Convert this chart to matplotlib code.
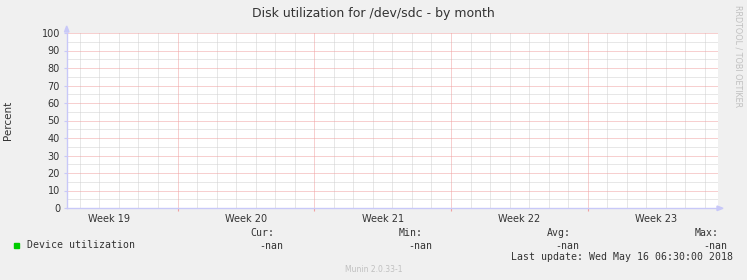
import numpy as np
import matplotlib
matplotlib.use("Agg")
import matplotlib.pyplot as plt
from matplotlib.patches import Polygon

# ---- data ----
title = "Disk utilization for /dev/sdc - by month"
ylabel = "Percent"
week_labels = ["Week 19", "Week 20", "Week 21", "Week 22", "Week 23"]
week_starts = [5.66, 12.66, 19.66, 26.66]      # day offsets of week boundaries
week_centers = [2.16, 9.16, 16.16, 23.16, 30.16]
days = np.arange(0, 34)                       # sample times (days)
utilization = [np.nan] * len(days)             # all values are -nan
series_name = "Device utilization"
stat_names = ["Cur:", "Min:", "Avg:", "Max:"]
stat_values = ["-nan", "-nan", "-nan", "-nan"]
last_update = "Last update: Wed May 16 06:30:00 2018"
x_span = (0, 33.33)
y_span = (0, 100)

W, H = 747, 280
fig = plt.figure(figsize=(W / 100, H / 100), dpi=100)
fig.patch.set_facecolor("#f0f0f0")

L, R, T, B = 67, 718, 33, 208
ax = fig.add_axes([L / W, 1 - B / H, (R - L) / W, (B - T) / H])
ax.set_facecolor("white")
ax.set_xlim(*x_span)
ax.set_ylim(*y_span)

ax.plot(days, utilization, color="#00cc00", lw=1)

LW = 0.72
DOT = (0, (1, 1))
GREY = "#d0d0d0"
RED = "#f0a0a0"
kw = dict(lw=LW, ls=DOT, snap=True, antialiased=True)
minor_x = [x for x in np.arange(0.66, 33.4, 1.0) if all(abs(x - w) > 0.01 for w in week_starts)]
for x in minor_x:
    ax.axvline(x, color=GREY, zorder=0, **kw)
for y in range(5, 100, 10):
    ax.axhline(y, color=GREY, zorder=0, **kw)
for y in range(10, 101, 10):
    ax.axhline(y, color=RED, zorder=1, **kw)
for x in week_starts:
    ax.axvline(x, color=RED, zorder=1, **kw)

for s in ["top", "right"]:
    ax.spines[s].set_visible(False)
for s in ["left", "bottom"]:
    ax.spines[s].set_color("#c8c8f8")
    ax.spines[s].set_linewidth(1.0)

ax.set_yticks(range(0, 101, 10))
ax.set_yticklabels([str(v) for v in range(0, 101, 10)], fontsize=7, color="#333333")
ax.tick_params(axis="y", length=2, width=0.8, color="#c8c8f8", pad=3)
ax.set_xticks(week_starts)
ax.set_xticklabels([""] * len(week_starts))
ax.tick_params(axis="x", length=2, width=0.8, color=RED)

sec = ax.secondary_xaxis("bottom")
sec.set_xticks(week_centers)
sec.set_xticklabels(week_labels, fontsize=7, color="#333333")
sec.tick_params(length=0, pad=4)
sec.spines["bottom"].set_visible(False)

ax.set_ylabel(ylabel, fontsize=7.5, color="#333333", labelpad=0)
ax.yaxis.set_label_coords(-54 / (R - L), 0.5)

def px(x, y):
    return (x / W, 1 - y / H)
fig.patches.append(Polygon([px(64.5, 32), px(69, 32), px(66.7, 26)], closed=True,
                           transform=fig.transFigure, color="#c8c8f8", zorder=5))
fig.patches.append(Polygon([px(717, 206), px(717, 210.6), px(723, 208.3)], closed=True,
                           transform=fig.transFigure, color="#c8c8f8", zorder=5))

fig.text(373.5 / W, 1 - 14 / H, title, ha="center", va="center", fontsize=9, color="#333333")
fig.text(738 / W, 1 - 56.5 / H, "RRDTOOL / TOBI OETIKER", rotation=270, ha="center", va="center",
         fontsize=5.8, color="#c0c0c0")

mono = "DejaVu Sans Mono"
MS = 7.15
fig.patches.append(plt.Rectangle(px(14, 248), 5 / W, 5 / H, transform=fig.transFigure,
                                 color="#00cc00"))
fig.text(27 / W, 1 - 245.5 / H, series_name, fontsize=MS, family=mono, color="#333333", va="center")
name_right = [274, 423, 571, 719]
val_right = [283, 432, 579, 727]
for nm, v, xr1, xr2 in zip(stat_names, stat_values, name_right, val_right):
    fig.text(xr1 / W, 1 - 233 / H, nm, fontsize=MS, family=mono, color="#333333", ha="right", va="center")
    fig.text(xr2 / W, 1 - 246 / H, v, fontsize=MS, family=mono, color="#333333", ha="right", va="center")
fig.text(733 / W, 1 - 257.5 / H, last_update, fontsize=MS, family=mono, color="#333333", ha="right", va="center")
fig.text(373.5 / W, 1 - 269 / H, "Munin 2.0.33-1", fontsize=5.5, color="#c0c0c0", ha="center", va="center")

fig.savefig("out.png", dpi=100, facecolor=fig.get_facecolor())
